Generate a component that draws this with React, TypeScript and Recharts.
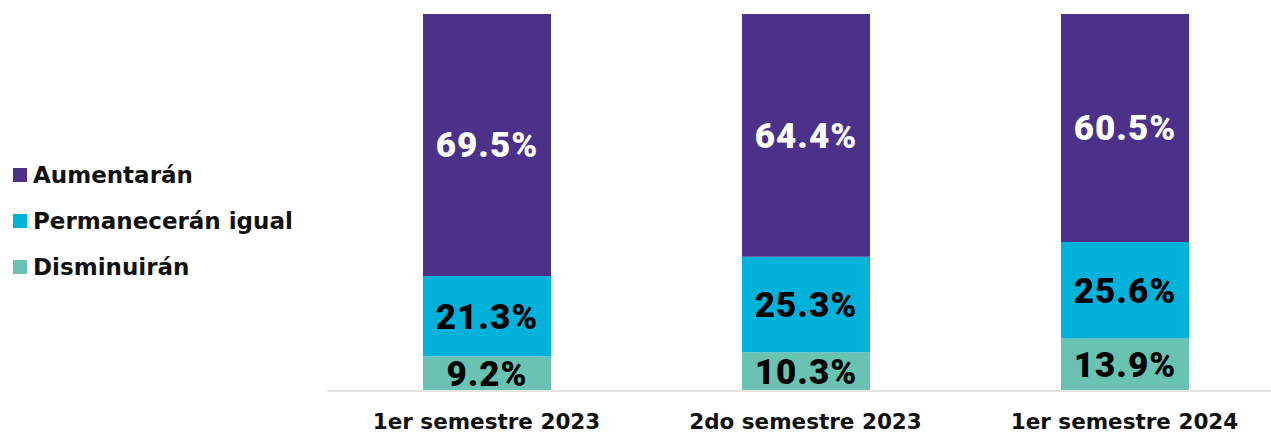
import React from "react";
import { BarChart, Bar, XAxis, YAxis, LabelList } from "recharts";

const categories = ["1er semestre 2023", "2do semestre 2023", "1er semestre 2024"];
const disminuiran = [9.2, 10.3, 13.9];
const permaneceran = [21.3, 25.3, 25.6];
const aumentaran = [69.5, 64.4, 60.5];

const seriesNames = ["Aumentarán", "Permanecerán igual", "Disminuirán"];
const seriesColors = ["#4b318a", "#00b1d9", "#69c2b2"];

const data = categories.map((name, i) => ({
  name,
  dis: disminuiran[i],
  per: permaneceran[i],
  aum: aumentaran[i],
}));

const pct = (v: any) => `${Number(v).toFixed(1)}%`;

const labelFont = {
  fontFamily: "Roboto, sans-serif",
  fontWeight: 900,
  fontSize: 35,
  letterSpacing: 1,
};

const CatTick = (props: any) => {
  const { x, y, payload } = props;
  return (
    <text
      x={x}
      y={y + 38}
      textAnchor="middle"
      fill="#111"
      style={{ fontFamily: "DejaVu Sans", fontWeight: 700, fontSize: 21.5 }}
    >
      {payload.value}
    </text>
  );
};

export default function App() {
  return (
    <div
      style={{
        position: "absolute",
        left: 0,
        top: 0,
        width: 1271,
        height: 434,
        overflow: "hidden",
        background: "#fff",
      }}
    >
      {/* legend sits left of the plot */}
      <div style={{ position: "absolute", left: 13, top: 163 }}>
        {seriesNames.map((s, i) => (
          <div
            key={s}
            style={{
              display: "flex",
              alignItems: "center",
              height: 24,
              marginBottom: 22,
            }}
          >
            <div style={{ width: 14, height: 14, background: seriesColors[i], marginRight: 6 }} />
            <span
              style={{
                fontFamily: "DejaVu Sans",
                fontWeight: 700,
                fontSize: 23,
                color: "#111",
                lineHeight: "24px",
              }}
            >
              {s}
            </span>
          </div>
        ))}
      </div>
      <BarChart
        width={1284}
        height={434}
        data={data}
        margin={{ top: 14, right: 0, bottom: 0, left: 327 }}
      >
        <YAxis hide domain={[0, 100]} />
        <XAxis
          dataKey="name"
          height={43}
          axisLine={{ stroke: "#e3e3e3", strokeWidth: 2 }}
          tickLine={false}
          tickSize={0}
          tickMargin={0}
          interval={0}
          tick={<CatTick />}
        />
        <Bar dataKey="dis" stackId="a" fill={seriesColors[2]} barSize={128} isAnimationActive={false}>
          <LabelList dataKey="dis" position="center" formatter={pct} fill="#000" style={labelFont} />
        </Bar>
        <Bar dataKey="per" stackId="a" fill={seriesColors[1]} barSize={128} isAnimationActive={false}>
          <LabelList dataKey="per" position="center" formatter={pct} fill="#000" style={labelFont} />
        </Bar>
        <Bar dataKey="aum" stackId="a" fill={seriesColors[0]} barSize={128} isAnimationActive={false}>
          <LabelList dataKey="aum" position="center" formatter={pct} fill="#fff" style={labelFont} />
        </Bar>
      </BarChart>
    </div>
  );
}
